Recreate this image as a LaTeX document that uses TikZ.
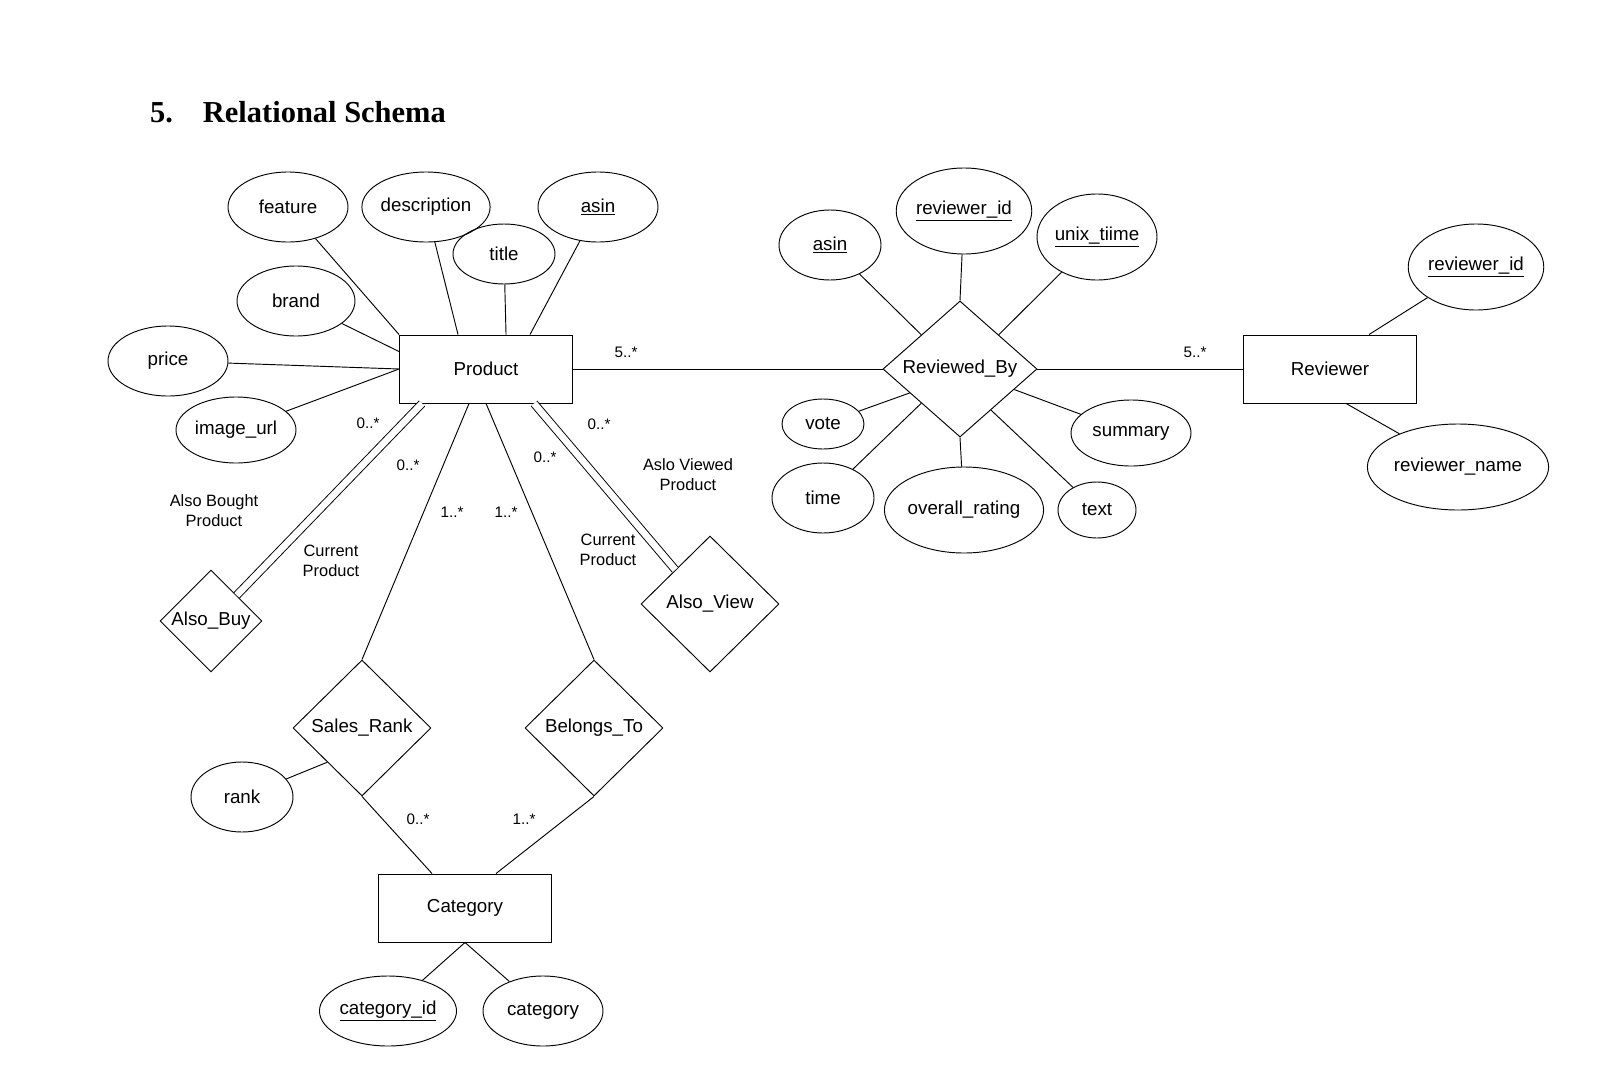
\documentclass[tikz,border=0pt]{standalone}
\usepackage{fontspec}
\setmainfont{Liberation Sans}
\newfontfamily\titlefont{Liberation Serif}
\usetikzlibrary{shapes.geometric,calc}
\tikzset{
  entity/.style={draw, thick, minimum width=5.19cm, minimum height=2.04cm, inner sep=0pt},
  attr/.style={draw, thick, ellipse, inner sep=0pt},
  rel/.style={draw, thick, diamond, inner sep=0pt},
  card/.style={font=\fontsize{13}{15}\selectfont},
  note/.style={font=\fontsize{14}{17}\selectfont, align=center},
  link/.style={thick},
  twin/.style={thick, double, double distance=0.2cm}
}
\begin{document}
\begin{tikzpicture}[x=0.03cm, y=-0.03cm, font=\fontsize{16}{19}\selectfont]
  \useasboundingbox (0,0) rectangle (1610,1090);
  \node[anchor=west, font=\titlefont\fontsize{26}{30}\selectfont\bfseries] (heading) at (146,112) {5.\hspace{0.9cm}Relational Schema};

  % Entities
  \node[entity] (product) at (486,369) {Product};
  \node[entity] (reviewer) at (1330,369) {Reviewer};
  \node[entity] (category) at (465,908) {Category};

  % Relationships
  \node[rel, minimum width=4.62cm, minimum height=4.08cm, label=center:Reviewed\_By] (reviewedby) at (960,369) {};
  \node[rel, minimum width=3.06cm, minimum height=3.06cm, label=center:Also\_Buy] (alsobuy) at (211,621) {};
  \node[rel, minimum width=4.14cm, minimum height=4.08cm, label=center:Also\_View] (alsoview) at (710,604) {};
  \node[rel, minimum width=4.14cm, minimum height=4.08cm, label=center:Sales\_Rank] (salesrank) at (362,728) {};
  \node[rel, minimum width=4.14cm, minimum height=4.08cm, label=center:Belongs\_To] (belongsto) at (594,728) {};

  % Product attributes
  \node[attr, minimum width=3.6cm, minimum height=2.1cm] (feature) at (288,207) {feature};
  \node[attr, minimum width=3.6cm, minimum height=2.1cm] (description) at (426,207) {description};
  \node[attr, minimum width=3.06cm, minimum height=1.8cm] (title) at (504,254) {title};
  \node[attr, minimum width=3.6cm, minimum height=2.1cm] (pasin) at (598,207) {\underline{asin}};
  \node[attr, minimum width=3.54cm, minimum height=2.1cm] (brand) at (296,301) {brand};
  \node[attr, minimum width=3.6cm, minimum height=2.1cm] (price) at (168,361) {price};
  \node[attr, minimum width=3.6cm, minimum height=1.98cm] (imageurl) at (236,430) {image\_url};

  % Reviewed_By attributes
  \node[attr, minimum width=3.06cm, minimum height=2.1cm] (rasin) at (830,245) {\underline{asin}};
  \node[attr, minimum width=3.6cm, minimum height=2.58cm] (rid) at (964,211) {\underline{reviewer\_id}};
  \node[attr, minimum width=3.6cm, minimum height=2.58cm] (unixtime) at (1097,237) {\underline{unix\_tiime}};
  \node[attr, minimum width=2.46cm, minimum height=1.5cm] (vote) at (823,424) {vote};
  \node[attr, minimum width=3.06cm, minimum height=2.1cm] (time) at (823,498) {time};
  \node[attr, minimum width=4.14cm, minimum height=2.58cm] (rating) at (964,510) {overall\_rating};
  \node[attr, minimum width=2.34cm, minimum height=1.68cm] (text) at (1097,510) {text};
  \node[attr, minimum width=3.6cm, minimum height=1.98cm] (summary) at (1131,433) {summary};

  % Reviewer attributes
  \node[attr, minimum width=3.6cm, minimum height=2.58cm] (reviewerid) at (1476,267) {\underline{reviewer\_id}};
  \node[attr, minimum width=4.62cm, minimum height=2.58cm] (reviewername) at (1458,467) {reviewer\_name};

  % Other attributes
  \node[attr, minimum width=3.06cm, minimum height=2.1cm] (rank) at (242,797) {rank};
  \node[attr, minimum width=3.6cm, minimum height=2.1cm] (categoryid) at (388,1011) {\underline{category\_id}};
  \node[attr, minimum width=3.6cm, minimum height=2.1cm] (categoryname) at (543,1011) {category};

  % Product links
  \draw[link] (feature) -- (product.north west);
  \draw[link] (description) -- ($(product.north west)+(59,0)$);
  \draw[link] (title) -- ($(product.north west)+(107,0)$);
  \draw[link] (pasin) -- ($(product.north west)+(131,0)$);
  \draw[link] (brand) -- ($(product.north west)+(0,17)$);
  \draw[link] (price) -- (product.west);
  \draw[link] (imageurl) -- (product.west);

  % Reviewed_By links
  \draw[link] (product) -- (reviewedby);
  \draw[link] (reviewedby) -- (reviewer);
  \draw[link] (rasin) -- ($(reviewedby.north)!0.5!(reviewedby.west)$);
  \draw[link] (rid) -- (reviewedby.north);
  \draw[link] (unixtime) -- ($(reviewedby.north)!0.5!(reviewedby.east)$);
  \draw[link] (vote) -- ($(reviewedby.west)!0.35!(reviewedby.south)$);
  \draw[link] (time) -- ($(reviewedby.west)!0.5!(reviewedby.south)$);
  \draw[link] (rating) -- (reviewedby.south);
  \draw[link] (text) -- ($(reviewedby.east)!0.6!(reviewedby.south)$);
  \draw[link] (summary) -- ($(reviewedby.east)!0.3!(reviewedby.south)$);

  % Reviewer links
  \draw[link] (reviewerid) -- ($(reviewer.north west)+(126,0)$);
  \draw[link] (reviewername) -- ($(reviewer.south west)+(103,0)$);

  % Product relationships
  \draw[twin] ($(product.south west)+(23,0)$) -- ($(alsobuy.north)!0.5!(alsobuy.east)$);
  \draw[twin] ($(product.south west)+(135,0)$) -- ($(alsoview.north)!0.5!(alsoview.west)$);
  \draw[link] ($(product.south west)+(70,0)$) -- (salesrank.north);
  \draw[link] ($(product.south west)+(87,0)$) -- (belongsto.north);
  \draw[link] (salesrank.south) -- ($(category.north west)+(54,0)$);
  \draw[link] (belongsto.south) -- ($(category.north west)+(118,0)$);
  \draw[link] (rank) -- ($(salesrank.west)!0.5!(salesrank.south)$);
  \draw[link] (category.south) -- (categoryid);
  \draw[link] (category.south) -- (categoryname);

  % Cardinalities
  \node[card] (c1) at (626,352) {5..*};
  \node[card] (c2) at (1195,352) {5..*};
  \node[card] (c3) at (368,423) {0..*};
  \node[card] (c4) at (408,465) {0..*};
  \node[card] (c5) at (599,424) {0..*};
  \node[card] (c6) at (545,457) {0..*};
  \node[card] (c7) at (452,512) {1..*};
  \node[card] (c8) at (506,512) {1..*};
  \node[card] (c9) at (418,819) {0..*};
  \node[card] (c10) at (524,819) {1..*};

  % Role names
  \node[note] (alsobought) at (214,511) {Also Bought\\Product};
  \node[note] (currentbuy) at (331,561) {Current\\Product};
  \node[note] (alsoviewed) at (688,475) {Aslo Viewed\\Product};
  \node[note] (currentview) at (608,550) {Current\\Product};
\end{tikzpicture}
\end{document}
